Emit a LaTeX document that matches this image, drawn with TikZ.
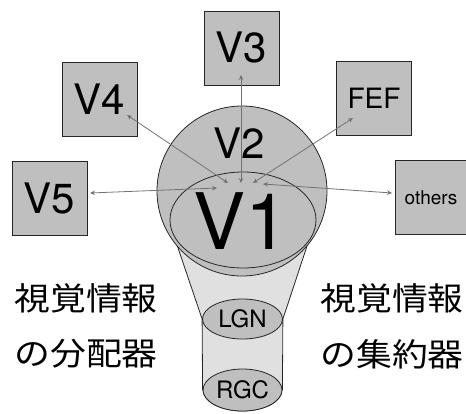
\documentclass[tikz,border=0pt]{standalone}
\usepackage{fontspec}
\usepackage{graphicx}
\setmainfont{TeX Gyre Heros}
\newfontfamily\jp{Noto Sans CJK JP}
\usetikzlibrary{arrows.meta,shapes.geometric}
\definecolor{boxgray}{gray}{0.75}
\definecolor{lightfill}{gray}{0.88}
\definecolor{arrgray}{gray}{0.45}
\tikzset{
  areabox/.style={draw=black!85, line width=0.8pt, fill=boxgray, minimum width=75pt, minimum height=74pt, inner sep=0pt},
  oval/.style={ellipse, draw=black!85, line width=0.8pt, fill=boxgray, inner sep=0pt},
  conn/.style={{Stealth[length=5pt,width=4.5pt]}-{Stealth[length=5pt,width=4.5pt]}, draw=arrgray, line width=0.8pt},
  edge line/.style={draw=black!85, line width=0.8pt},
  jptext/.style={inner sep=0pt, font=\jp\fontsize{32}{32}\selectfont}
}
\begin{document}
\begin{tikzpicture}[x=1pt,y=-1pt]
\useasboundingbox (0,0) rectangle (466,413);
% lower parts
\node[oval, minimum width=80pt, minimum height=40pt] (lgn) at (242.5,319) {};
\node[oval, minimum width=79pt, minimum height=42pt] (rgc) at (242.5,390) {};
\coordinate (fl) at (176,242);
\coordinate (fr) at (308,243);
\fill[lightfill] (fl) -- (lgn.west) -- (lgn.east) -- (fr) -- cycle;
\fill[lightfill] (lgn.west) rectangle (rgc.east);
\draw[edge line] (fl) -- (lgn.west);
\draw[edge line] (fr) -- (lgn.east);
\draw[edge line] (lgn.west) -- (rgc.west);
\draw[edge line] (lgn.east) -- (rgc.east);
\node[oval, minimum width=80pt, minimum height=40pt, font=\fontsize{24}{24}\selectfont] (lgnT) at (242.5,319) {LGN};
\node[oval, minimum width=79pt, minimum height=42pt, font=\fontsize{24}{24}\selectfont] (rgcT) at (242.5,390) {RGC};
% V2 and V1
\node[circle, draw=black!85, line width=0.8pt, fill=boxgray, minimum size=170pt, inner sep=0pt] (v2) at (242,191) {};
\node[font=\fontsize{42}{42}\selectfont, inner sep=0pt] (v2t) at (239,143) {V2};
\node[oval, minimum width=146pt, minimum height=96pt] (v1) at (243,220) {};
\node[font=\fontsize{78}{78}\selectfont, inner sep=0pt] (v1t) at (241,221) {V1};
% boxes
\node[areabox, font=\fontsize{42}{42}\selectfont] (v3) at (241.5,48) {V3};
\node[areabox, font=\fontsize{42}{42}\selectfont] (v4) at (99.5,99.5) {V4};
\node[areabox, font=\fontsize{42}{42}\selectfont] (v5) at (49.5,198.5) {V5};
\node[areabox, font=\fontsize{28}{28}\selectfont] (fef) at (374,98.5) {FEF};
\node[areabox, minimum width=72pt, font=\fontsize{19}{19}\selectfont] (oth) at (431,197.5) {others};
% connector end points
\coordinate (v3a) at (241,75);  \coordinate (v3b) at (241,183);
\coordinate (v4a) at (127,115); \coordinate (v4b) at (228,183);
\coordinate (fefa) at (353,118); \coordinate (fefb) at (253,183);
\coordinate (v5a) at (90,193);  \coordinate (v5b) at (217,188);
\coordinate (otha) at (392,193); \coordinate (othb) at (263,184);
\draw[conn] (v3a) -- (v3b);
\draw[conn] (v4a) -- (v4b);
\draw[conn] (fefa) -- (fefb);
\draw[conn] (v5a) -- (v5b);
\draw[conn] (otha) -- (othb);
% Japanese texts
\node[jptext] (l1) at (86,298) {\scalebox{1.12}[1]{視覚情報}};
\node[jptext] (l2) at (86,354) {\scalebox{1.12}[1]{の分配器}};
\node[jptext] (r1) at (392,298) {\scalebox{1.12}[1]{視覚情報}};
\node[jptext] (r2) at (392,354) {\scalebox{1.12}[1]{の集約器}};
\end{tikzpicture}
\end{document}
